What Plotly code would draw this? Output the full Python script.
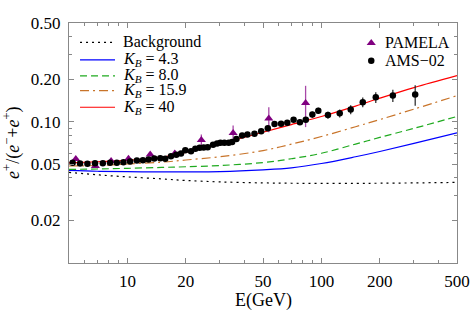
import plotly.graph_objects as go

# ---------------- data ----------------
ams_E = [5.22, 5.70, 6.22, 6.81, 7.47, 8.14, 8.82, 9.54, 10.33, 11.19, 12.02, 12.85,
         13.75, 14.77, 15.67, 16.77, 17.87, 18.89, 19.88, 21.28, 22.40, 23.57, 24.72,
         25.93, 27.64, 28.99, 30.16, 31.62, 33.28, 34.66, 36.48, 39.04, 41.58, 45.19,
         48.94, 52.94, 57.33, 61.95, 66.69, 71.89, 77.48, 83.10, 89.8, 96.4, 108.1,
         124.3, 141.6, 163.4, 190.7, 233.5, 304.4]
ams_frac = [0.0512, 0.0507, 0.0504, 0.0509, 0.0509, 0.0512, 0.0512, 0.0517, 0.0523,
            0.0532, 0.0534, 0.0541, 0.0549, 0.0552, 0.0547, 0.0570, 0.0584, 0.0596,
            0.0629, 0.0619, 0.0643, 0.0654, 0.0657, 0.0660, 0.0687, 0.0701, 0.0709,
            0.0709, 0.0709, 0.0719, 0.0755, 0.0799, 0.0812, 0.0821, 0.0857, 0.0898,
            0.0963, 0.0968, 0.0982, 0.1031, 0.0992, 0.1031, 0.1124, 0.1194, 0.1115,
            0.1148, 0.1219, 0.1374, 0.1489, 0.1531, 0.1556]
ams_err = [0.0006, 0.0006, 0.0006, 0.0006, 0.0006, 0.0006, 0.0006, 0.0007, 0.0007,
           0.0007, 0.0007, 0.0008, 0.0008, 0.0008, 0.0008, 0.0009, 0.0009, 0.0009,
           0.0010, 0.0010, 0.0011, 0.0011, 0.0012, 0.0012, 0.0013, 0.0013, 0.0014,
           0.0015, 0.0016, 0.0017, 0.0018, 0.0020, 0.0022, 0.0024, 0.0026, 0.0029,
           0.0032, 0.0034, 0.0036, 0.0040, 0.0042, 0.0045, 0.0055, 0.0060, 0.0063,
           0.0075, 0.0090, 0.0110, 0.0130, 0.0150, 0.0260]

pamela_E = [5.42, 6.84, 8.24, 10.13, 13.11, 17.55, 24.05, 35.07, 53.57, 82.9]
pamela_frac = [0.0545, 0.0486, 0.0528, 0.0548, 0.0586, 0.0596, 0.0742, 0.0832, 0.1054, 0.1356]
pamela_err = [0.0012, 0.0012, 0.0013, 0.0014, 0.0017, 0.0027, 0.0070, 0.0110, 0.0210, 0.0440]

curve_E = [5, 7, 10, 15, 20, 30, 50, 70, 100, 150, 200, 300, 500]
background = [0.0438, 0.0421, 0.0407, 0.0394, 0.0384, 0.0375, 0.0369, 0.0367, 0.0366,
              0.0366, 0.0367, 0.0369, 0.0372]
kb_4_3 = [0.0452, 0.0446, 0.0443, 0.0442, 0.0442, 0.0444, 0.0457, 0.0472, 0.0506,
          0.0565, 0.0616, 0.0703, 0.0835]
kb_8_0 = [0.0460, 0.0463, 0.0468, 0.0475, 0.0480, 0.0490, 0.0514, 0.0547, 0.0598,
          0.0695, 0.0774, 0.0898, 0.1089]
kb_15_9 = [0.0486, 0.0490, 0.0502, 0.0517, 0.0536, 0.0565, 0.0625, 0.0694, 0.0786,
           0.0922, 0.1036, 0.1228, 0.1531]
kb_40 = [0.0511, 0.0521, 0.0532, 0.0560, 0.0606, 0.0696, 0.0842, 0.0955, 0.1089,
         0.1291, 0.1468, 0.1745, 0.2120]

x_ticks = [10, 20, 50, 100, 200, 500]
x_minor = [6, 7, 8, 9, 30, 40, 60, 70, 80, 90, 300, 400]
y_ticks = [0.02, 0.05, 0.10, 0.20, 0.50]
y_ticktext = ["0.02", "0.05", "0.10", "0.20", "0.50"]
y_minor = [0.03, 0.04, 0.06, 0.07, 0.08, 0.09, 0.3, 0.4]

curve_names = ["Background", "<i>K</i><sub><i>B</i></sub> = 4.3", "<i>K</i><sub><i>B</i></sub> = 8.0",
               "<i>K</i><sub><i>B</i></sub> = 15.9", "<i>K</i><sub><i>B</i></sub> = 40"]
curve_vals = [background, kb_4_3, kb_8_0, kb_15_9, kb_40]
curve_colors = ["#000000", "#0000FF", "#1FAA1F", "#C8742A", "#FF0000"]
curve_dash = ["2px,4px", "solid", "7px,4px", "9px,4px,2px,4px", "solid"]

FONT = "Liberation Serif, Times New Roman, serif"
FRAME = "#888888"
PURPLE = "#800080"

fig = go.Figure()

for name, vals, col, dash in zip(curve_names, curve_vals, curve_colors, curve_dash):
    fig.add_trace(go.Scatter(x=curve_E, y=vals, mode="lines", line_shape="spline",
                             line=dict(color=col, width=1.2, dash=dash),
                             name=name, showlegend=False))

fig.add_trace(go.Scatter(x=pamela_E, y=pamela_frac, mode="markers", name="PAMELA",
                         marker=dict(symbol="triangle-up", size=8, color=PURPLE),
                         error_y=dict(type="data", array=pamela_err, color="#A848A8",
                                      thickness=1.3, width=0),
                         showlegend=False))
fig.add_trace(go.Scatter(x=ams_E, y=ams_frac, mode="markers", name="AMS-02",
                         marker=dict(symbol="circle", size=6.5, color="black"),
                         error_y=dict(type="data", array=ams_err, color="#222222",
                                      thickness=1.2, width=0),
                         showlegend=False))

# ---------- legend drawn on an overlay axis (0..1 in plot area) ----------
leg_rows = [0.919, 0.846, 0.780, 0.718, 0.649]
for row, name, col, dash in zip(leg_rows, curve_names, curve_colors, curve_dash):
    fig.add_trace(go.Scatter(x=[0.0284, 0.1186], y=[row, row], mode="lines",
                             line=dict(color=col, width=1.2, dash=dash),
                             xaxis="x2", yaxis="y2", showlegend=False, hoverinfo="skip"))
    fig.add_annotation(x=0.134, y=row, xref="x2", yref="y2", text=name, showarrow=False,
                       xanchor="left", yanchor="middle",
                       font=dict(family=FONT, size=16, color="black"))

mk_rows = [0.917, 0.843]
mk_names = ["PAMELA", "AMS\u221202"]
fig.add_trace(go.Scatter(x=[0.779], y=[mk_rows[0]], mode="markers",
                         marker=dict(symbol="triangle-up", size=8, color=PURPLE),
                         xaxis="x2", yaxis="y2", showlegend=False, hoverinfo="skip"))
fig.add_trace(go.Scatter(x=[0.779], y=[mk_rows[1]], mode="markers",
                         marker=dict(symbol="circle", size=6.5, color="black"),
                         xaxis="x2", yaxis="y2", showlegend=False, hoverinfo="skip"))
for row, name in zip(mk_rows, mk_names):
    fig.add_annotation(x=0.81, y=row, xref="x2", yref="y2", text=name, showarrow=False,
                       xanchor="left", yanchor="middle",
                       font=dict(family=FONT, size=16, color="black"))

# axis titles
fig.add_annotation(x=-0.147, y=0.5, xref="paper", yref="paper", textangle=-90,
                   text="<i>e</i><sup>+</sup>/(<i>e</i><sup>\u2212</sup>+<i>e</i><sup>+</sup>)",
                   showarrow=False, xanchor="center", yanchor="middle",
                   font=dict(family=FONT, size=18, color="black"))
fig.add_annotation(x=0.5, y=-0.155, xref="paper", yref="paper", text="E(GeV)",
                   showarrow=False, xanchor="center", yanchor="middle",
                   font=dict(family=FONT, size=18, color="black"))

axis_common = dict(showline=True, linecolor=FRAME, linewidth=1, mirror="ticks",
                   ticks="inside", ticklen=5, tickcolor=FRAME, tickwidth=1,
                   showgrid=False, zeroline=False, automargin=False,
                   tickfont=dict(family=FONT, size=17, color="black"))

fig.update_layout(
    width=471, height=315,
    margin=dict(l=69, r=14, t=23, b=52),
    paper_bgcolor="white", plot_bgcolor="white",
    showlegend=False,
    font=dict(family=FONT),
    xaxis=dict(type="log", range=[0.69897, 2.69897], tickmode="array",
               tickvals=x_ticks, ticktext=[str(v) for v in x_ticks],
               minor=dict(tickmode="array", tickvals=x_minor, ticks="inside",
                          ticklen=3, tickcolor=FRAME),
               ticklabelstandoff=3, **axis_common),
    yaxis=dict(type="log", range=[-2, -0.30103], tickmode="array",
               tickvals=y_ticks, ticktext=y_ticktext,
               minor=dict(tickmode="array", tickvals=y_minor, ticks="inside",
                          ticklen=3, tickcolor=FRAME),
               ticklabelstandoff=4, **axis_common),
    xaxis2=dict(range=[0, 1], overlaying="x", visible=False, fixedrange=True),
    yaxis2=dict(range=[0, 1], overlaying="y", visible=False, fixedrange=True),
)

# remove the browser's default page margin so the figure fills the window exactly
fig.write_html("out.html", config={"displayModeBar": False},
               post_script="document.body.style.margin='0';document.body.style.overflow='hidden';")
